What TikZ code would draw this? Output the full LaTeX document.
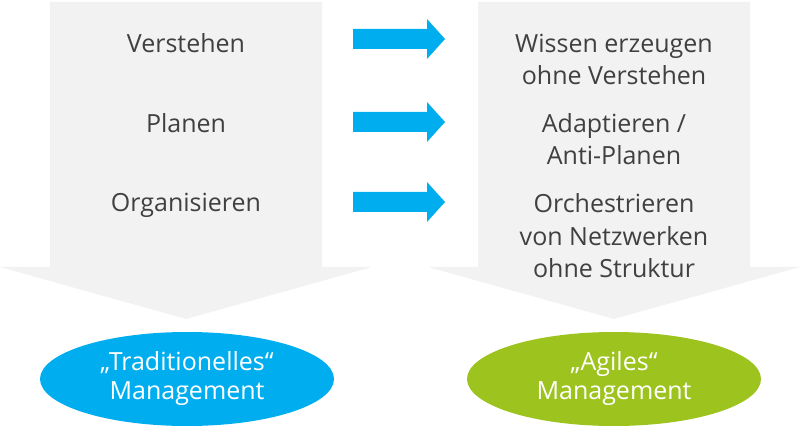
\documentclass[tikz,border=0pt]{standalone}
\usepackage{fontspec}
\usetikzlibrary{shapes.geometric}
\setmainfont{Open Sans}
\definecolor{boxgray}{RGB}{242,242,242}
\definecolor{arrowblue}{RGB}{0,174,239}
\definecolor{agilegreen}{RGB}{157,195,30}
\definecolor{textgray}{RGB}{64,64,64}
\begin{document}
\begin{tikzpicture}[x=1pt,y=-1pt,
  lbl/.style={font=\fontsize{25}{32.5}\selectfont, text=textgray, align=center, anchor=base, inner sep=0pt},
  oval/.style={ellipse, minimum width=294pt, minimum height=94pt, inner sep=0pt, text=white, align=center, font=\fontsize{25}{29}\selectfont},
  blockarrow/.style={fill=arrowblue}]
\useasboundingbox (0,0) rectangle (800,427);
% big gray down arrows
\fill[boxgray] (50,2) -- (322,2) -- (322,267) -- (372,267) -- (186,319) -- (0,267) -- (50,267) -- cycle;
\fill[boxgray] (478,2) -- (750,2) -- (750,267) -- (800,267) -- (614,319) -- (428,267) -- (478,267) -- cycle;
% left texts
\node[lbl] (l1) at (186,53) {Verstehen};
\node[lbl] (l2) at (186,133) {Planen};
\node[lbl] (l3) at (186,212) {Organisieren};
% right texts (anchor base = last line)
\node[lbl] (r1) at (614,85) {Wissen erzeugen\\ohne Verstehen};
\node[lbl] (r2) at (614,165) {Adaptieren /\\Anti-Planen};
\node[lbl] (r3) at (614,278) {Orchestrieren\\von Netzwerken\\ohne Struktur};
% blue arrows
\foreach \yy in {39,122,202}{
  \fill[blockarrow] (353,\yy-10) -- (427,\yy-10) -- (427,\yy-20) -- (445,\yy) -- (427,\yy+20) -- (427,\yy+10) -- (353,\yy+10) -- cycle;
}
% ellipses
\node[oval, fill=arrowblue] (trad) at (187,379) {„Traditionelles“\\Management};
\node[oval, fill=agilegreen] (agil) at (614,379) {„Agiles“\\Management};
\end{tikzpicture}
\end{document}
